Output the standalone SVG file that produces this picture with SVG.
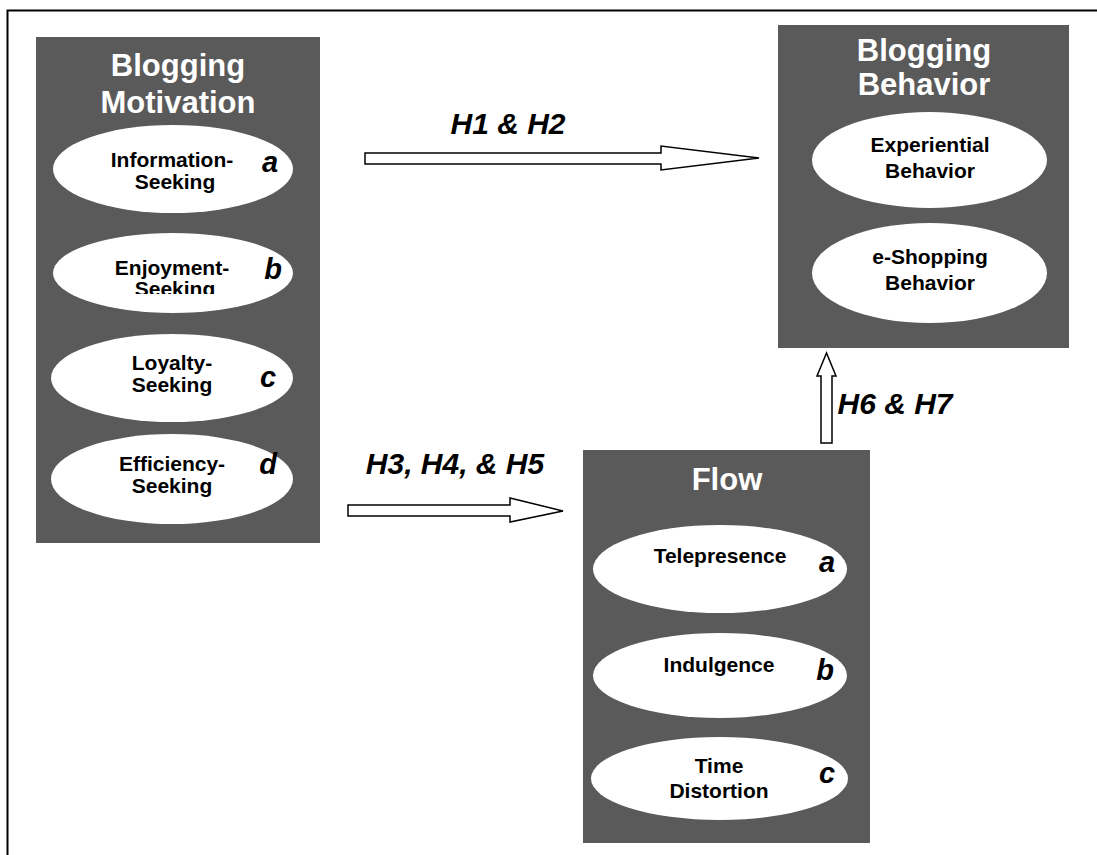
<svg xmlns="http://www.w3.org/2000/svg" width="1097" height="855" viewBox="0 0 1097 855">
  <defs>
    <style>
      .panel { fill: #5a5a5a; }
      .oval { fill: #ffffff; }
      .title { font-family: "Liberation Sans", Arial, sans-serif; font-weight: bold; font-size: 31px; fill: #ffffff; text-anchor: middle; }
      .item { font-family: "Liberation Sans", Arial, sans-serif; font-weight: bold; font-size: 21px; fill: #000000; text-anchor: middle; }
      .tag { font-family: "Liberation Sans", Arial, sans-serif; font-weight: bold; font-style: italic; font-size: 29px; fill: #000000; text-anchor: middle; }
      .hyp { font-family: "Liberation Sans", Arial, sans-serif; font-weight: bold; font-style: italic; font-size: 30px; fill: #000000; text-anchor: middle; }
      .arrow { fill: #ffffff; stroke: #000000; stroke-width: 1.5; stroke-linejoin: miter; }
    </style>
    <clipPath id="clip-enjoy">
      <rect x="40" y="240" width="270" height="54"/>
    </clipPath>
  </defs>

  <rect width="1097" height="855" fill="#ffffff"/>

  <!-- outer frame -->
  <path d="M7.5 855 V10.5 H1097" fill="none" stroke="#000000" stroke-width="2"/>

  <!-- Blogging Motivation -->
  <g id="motivation">
    <rect class="panel" x="36" y="37" width="284" height="506"/>
    <text class="title" x="178" y="76">Blogging</text>
    <text class="title" x="178" y="113">Motivation</text>

    <ellipse class="oval" cx="173" cy="169" rx="120" ry="44"/>
    <text class="item" x="172" y="167">Information-</text>
    <text class="item" x="175" y="189">Seeking</text>
    <text class="tag" x="270" y="172">a</text>

    <ellipse class="oval" cx="173" cy="273" rx="120" ry="40"/>
    <g clip-path="url(#clip-enjoy)">
      <text class="item" x="172" y="275">Enjoyment-</text>
      <text class="item" x="175" y="296">Seeking</text>
    </g>
    <text class="tag" x="273" y="279">b</text>

    <ellipse class="oval" cx="172" cy="378" rx="121" ry="44"/>
    <text class="item" x="172" y="370">Loyalty-</text>
    <text class="item" x="172" y="392">Seeking</text>
    <text class="tag" x="268" y="387">c</text>

    <ellipse class="oval" cx="172" cy="479" rx="121" ry="45"/>
    <text class="item" x="172" y="471">Efficiency-</text>
    <text class="item" x="172" y="493">Seeking</text>
    <text class="tag" x="268" y="474">d</text>
  </g>

  <!-- Blogging Behavior -->
  <g id="behavior">
    <rect class="panel" x="778" y="25" width="291" height="323"/>
    <text class="title" x="924" y="61">Blogging</text>
    <text class="title" x="924" y="95">Behavior</text>

    <ellipse class="oval" cx="929.5" cy="160" rx="117.5" ry="48"/>
    <text class="item" x="930" y="152">Experiential</text>
    <text class="item" x="930" y="178">Behavior</text>

    <ellipse class="oval" cx="929.5" cy="273" rx="117.5" ry="50"/>
    <text class="item" x="930" y="264">e-Shopping</text>
    <text class="item" x="930" y="290">Behavior</text>
  </g>

  <!-- Flow -->
  <g id="flow">
    <rect class="panel" x="583" y="450" width="287" height="393"/>
    <text class="title" x="727" y="490">Flow</text>

    <ellipse class="oval" cx="720" cy="569" rx="127" ry="44"/>
    <text class="item" x="720" y="563">Telepresence</text>
    <text class="tag" x="827" y="572">a</text>

    <ellipse class="oval" cx="720" cy="675.5" rx="127" ry="42.5"/>
    <text class="item" x="719" y="672">Indulgence</text>
    <text class="tag" x="825" y="680">b</text>

    <ellipse class="oval" cx="719.5" cy="778.5" rx="128.5" ry="41.5"/>
    <text class="item" x="719" y="773">Time</text>
    <text class="item" x="719" y="798">Distortion</text>
    <text class="tag" x="827" y="783">c</text>
  </g>

  <!-- hypothesis arrows -->
  <g id="connectors">
    <path class="arrow" d="M365 153 H661 V146 L759 158 L661 170 V164 H365 Z"/>
    <text class="hyp" x="508" y="134">H1 &amp; H2</text>

    <path class="arrow" d="M348 505 H510 V498 L563 511 L510 522 V516 H348 Z"/>
    <text class="hyp" x="455" y="474">H3, H4, &amp; H5</text>

    <path class="arrow" d="M821 443 V376 H817 L826.5 353 L836 376 H832 V443 Z"/>
    <text class="hyp" x="895" y="414">H6 &amp; H7</text>
  </g>
</svg>
